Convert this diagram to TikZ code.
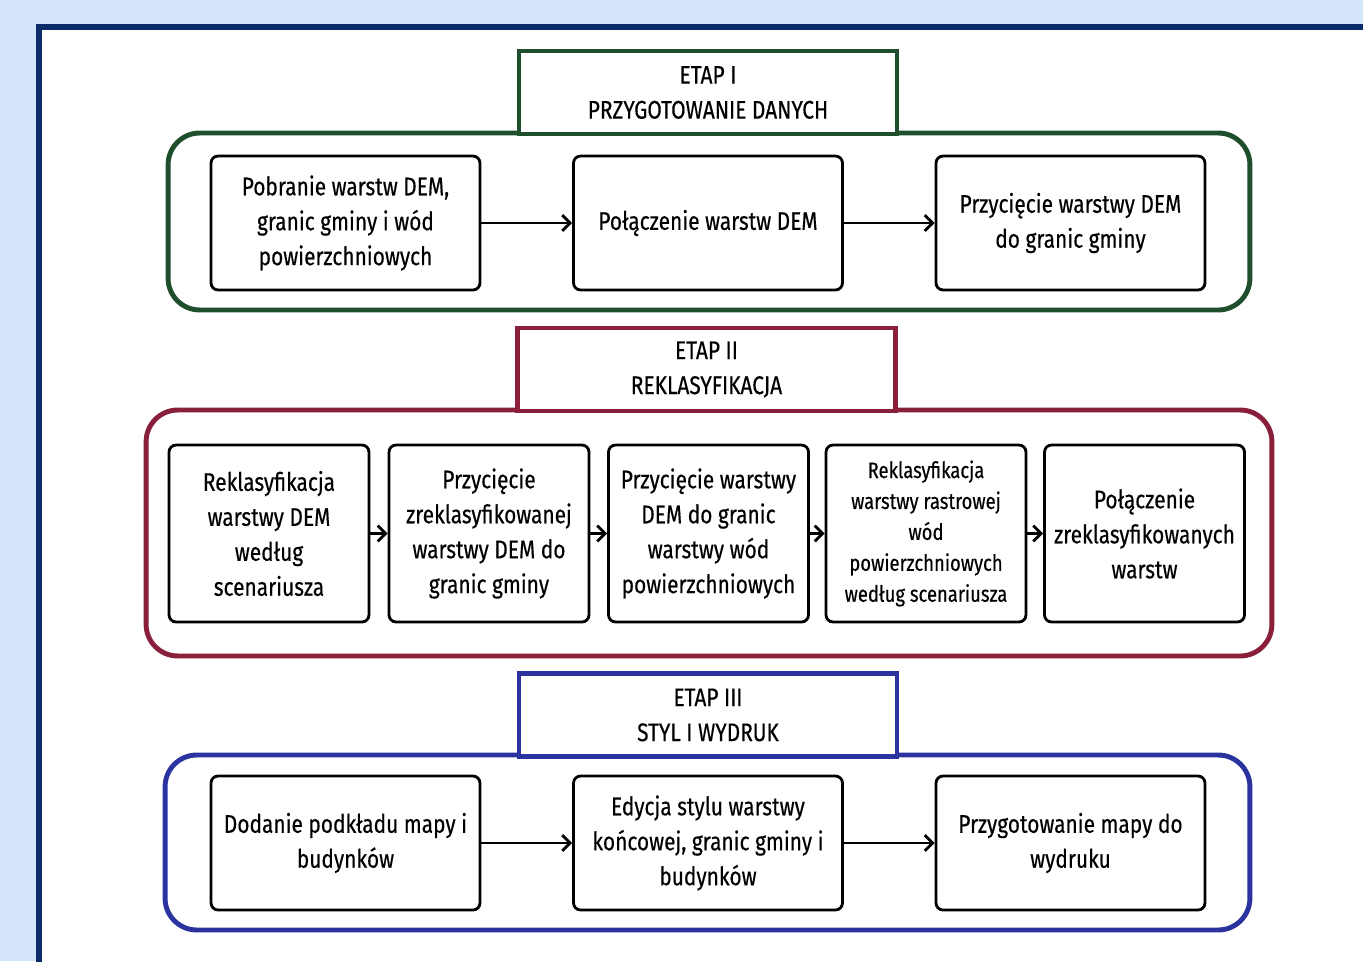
\documentclass[tikz,border=0pt]{standalone}
\usepackage{fontspec}
\setmainfont{Fira Sans}[FakeStretch=0.82,FakeBold=0.4]
\usetikzlibrary{positioning,arrows.meta}
\definecolor{bgblue}{HTML}{D4E4FA}
\definecolor{framenavy}{HTML}{0B2B6B}
\definecolor{etapgreen}{HTML}{1F4E2C}
\definecolor{etapred}{HTML}{8A1F3C}
\definecolor{etapblue}{HTML}{2A33A0}

\begin{document}
\begin{tikzpicture}[x=0.02cm,y=-0.02cm,
    font=\fontsize{14.5}{19.9}\selectfont,
    task/.style={draw,rounded corners=4pt,line width=1.6pt,fill=white,align=center,
                 minimum width=5.38cm,minimum height=2.68cm,inner sep=2pt},
    narrow task/.style={task,minimum width=4cm,minimum height=3.54cm},
    header/.style={draw,line width=2.6pt,fill=white,text=black,align=center,
                   minimum width=7.56cm,minimum height=1.66cm},
    stage/.style={draw,line width=2.8pt,rounded corners=18pt},
    link/.style={-{Straight Barb[length=4.5pt,width=9pt]},line width=1.6pt}
  ]
  \useasboundingbox (0,0) rectangle (1363,961);
  % background and frame
  \fill[bgblue] (0,0) rectangle (1363,961);
  \fill[white] (39,27) rectangle (1363,961);
  \draw[framenavy,line width=0.12cm] (39,965) -- (39,27) -- (1367,27);

  % ETAP I
  \node[stage,etapgreen,minimum width=21.64cm,minimum height=3.54cm] (etap1) at (709,221.5) {};
  \node[header,draw=etapgreen] (head1) at (708,92.5) {ETAP I\\PRZYGOTOWANIE DANYCH};
  \node[task] (a1) at (345.5,223) {Pobranie warstw DEM,\\granic gminy i wód\\powierzchniowych};
  \node[task] (a2) at (708,223) {Połączenie warstw DEM};
  \node[task] (a3) at (1070.5,223) {Przycięcie warstwy DEM\\do granic gminy};
  \path[link]
    (a1) edge (a2)
    (a2) edge (a3);

  % ETAP II
  \node[stage,etapred,minimum width=22.52cm,minimum height=4.92cm] (etap2) at (709,533) {};
  \node[header,draw=etapred] (head2) at (706.5,369.5) {ETAP II\\REKLASYFIKACJA};
  \node[narrow task] (b1) at (269,533.5) {Reklasyfikacja\\warstwy DEM\\według\\scenariusza};
  \node[narrow task] (b2) at (489,533.5) {Przycięcie\\zreklasyfikowanej\\warstwy DEM do\\granic gminy};
  \node[narrow task] (b3) at (708.5,533.5) {Przycięcie warstwy\\DEM do granic\\warstwy wód\\powierzchniowych};
  \node[narrow task,font=\fontsize{12.8}{17.6}\selectfont] (b4) at (926,533.5)
    {Reklasyfikacja\\warstwy rastrowej\\wód\\powierzchniowych\\według scenariusza};
  \node[narrow task] (b5) at (1144.5,533.5) {Połączenie\\zreklasyfikowanych\\warstw};
  \path[link]
    (b1) edge (b2)
    (b2) edge (b3)
    (b3) edge (b4)
    (b4) edge (b5);

  % ETAP III
  \node[stage,etapblue,minimum width=21.7cm,minimum height=3.5cm] (etap3) at (707.5,842.5) {};
  \node[header,draw=etapblue] (head3) at (708,715) {ETAP III\\STYL I WYDRUK};
  \node[task] (c1) at (345.5,843) {Dodanie podkładu mapy i\\budynków};
  \node[task] (c2) at (708,843) {Edycja stylu warstwy\\końcowej, granic gminy i\\budynków};
  \node[task] (c3) at (1070.5,843) {Przygotowanie mapy do\\wydruku};
  \path[link]
    (c1) edge (c2)
    (c2) edge (c3);
\end{tikzpicture}
\end{document}
